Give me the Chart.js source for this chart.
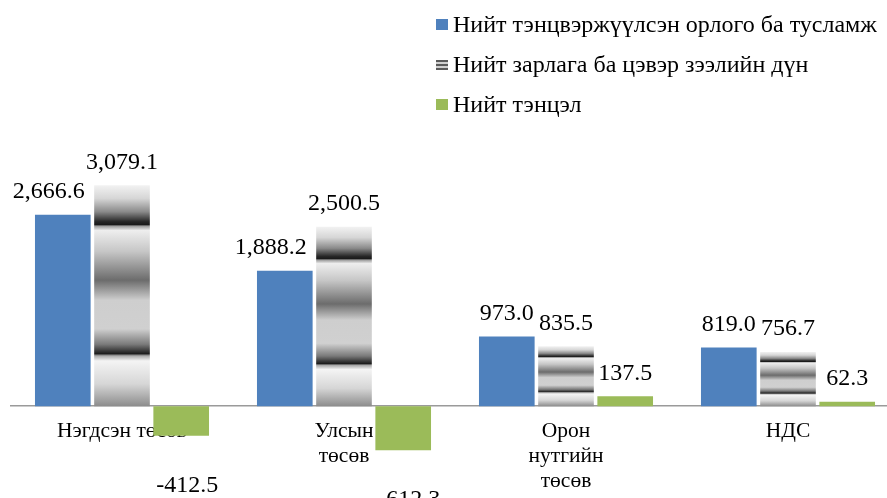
<!DOCTYPE html>
<html>
<head>
<meta charset="utf-8">
<script src="https://cdn.jsdelivr.net/npm/chart.js@4"></script>
<style>
  html, body { margin: 0; padding: 0; background: #fff; overflow: hidden; }
  #wrap { width: 887px; height: 498px; overflow: hidden; }
</style>
</head>
<body>
<div id="wrap"><canvas id="myChart" width="899" height="498"></canvas></div>
<script>
const categories = [['Нэгдсэн төсөв'], ['Улсын', 'төсөв'], ['Орон', 'нутгийн', 'төсөв'], ['НДС']];
const seriesNames = [
    'Нийт тэнцвэржүүлсэн орлого ба тусламж',
    'Нийт зарлага ба цэвэр зээлийн дүн',
    'Нийт тэнцэл'
];
const revenue = [2666.6, 1888.2, 973.0, 819.0];
const spending = [3079.1, 2500.5, 835.5, 756.7];
const balance = [-412.5, -612.3, 137.5, 62.3];

const serif = "'Liberation Serif', 'Times New Roman', serif";

// grey banded fill, stretched over each bar
const greyStops = [
    [0.00, '#f2f2f2'], [0.06, '#d6d6d6'], [0.12, '#8a8a8a'], [0.165, '#262626'],
    [0.178, '#1a1a1a'], [0.185, '#9a9a9a'], [0.205, '#eeeeee'], [0.30, '#c6c6c6'],
    [0.43, '#6c6c6c'], [0.52, '#cecece'], [0.65, '#d0d0d0'], [0.72, '#7a7a7a'],
    [0.762, '#1e1e1e'], [0.772, '#a8a8a8'], [0.795, '#f4f4f4'], [0.90, '#d6d6d6'],
    [1.00, '#8c8c8c']
];

function greyFill(context) {
    const chart = context.chart;
    const y = chart.scales.y;
    if (context.type !== 'data' || !y) return '#999999';
    const top = y.getPixelForValue(context.raw);
    const base = y.getPixelForValue(0);
    if (!isFinite(top) || !isFinite(base) || top === base) return '#999999';
    const g = chart.ctx.createLinearGradient(0, top, 0, base);
    greyStops.forEach(s => g.addColorStop(s[0], s[1]));
    return g;
}

const valueLabels = {
    id: 'valueLabels',
    afterDatasetsDraw(chart) {
        const ctx = chart.ctx;
        ctx.save();
        ctx.font = '24px ' + serif;
        ctx.fillStyle = '#000';
        ctx.textAlign = 'center';
        ctx.textBaseline = 'middle';
        chart.data.datasets.forEach((ds, i) => {
            const meta = chart.getDatasetMeta(i);
            meta.data.forEach((bar, j) => {
                const v = ds.data[j];
                const txt = v.toLocaleString('en-US', { minimumFractionDigits: 1, maximumFractionDigits: 1 });
                let x = bar.x;
                let yy;
                if (v < 0) {
                    yy = bar.y + 50;
                    x += 6;
                } else {
                    yy = bar.y - 23;
                    // first series labels pushed left where they crowd the tall neighbour
                    if (i === 0 && v > 1000) x -= 14;
                }
                ctx.fillText(txt, x, yy);
            });
        });
        ctx.restore();
    }
};

const sideLegend = {
    id: 'sideLegend',
    afterDraw(chart) {
        const ctx = chart.ctx;
        ctx.save();
        ctx.font = '24px ' + serif;
        ctx.textBaseline = 'middle';
        ctx.textAlign = 'left';
        chart.data.datasets.forEach((ds, i) => {
            const cy = 25 + i * 40;
            if (i === 1) {
                for (let k = 0; k < 5; k++) {
                    ctx.fillStyle = k % 2 === 0 ? '#5a5a5a' : '#d0d0d0';
                    ctx.fillRect(436, cy - 5 + k * 2, 12, 2);
                }
            } else {
                ctx.fillStyle = ds.backgroundColor;
                ctx.fillRect(436, cy - 6, 12, 11);
            }
            ctx.fillStyle = '#000';
            ctx.fillText(ds.label, 453, cy + 1);
        });
        ctx.restore();
    }
};

const ctx = document.getElementById('myChart').getContext('2d');
const myChart = new Chart(ctx, {
    type: 'bar',
    data: {
        labels: categories,
        datasets: [{
            label: seriesNames[0],
            data: revenue,
            backgroundColor: '#4f81bd'
        },
        {
            label: seriesNames[1],
            data: spending,
            backgroundColor: greyFill
        },
        {
            label: seriesNames[2],
            data: balance,
            backgroundColor: '#9bbb59'
        }]
    },
    options: {
        responsive: false,
        animation: false,
        layout: {
            padding: { top: 155, bottom: 20, left: 11, right: 0 }
        },
        datasets: {
            bar: {
                categoryPercentage: 0.8,
                barPercentage: 0.94
            }
        },
        plugins: {
            legend: { display: false },
            tooltip: { enabled: false }
        },
        scales: {
            x: {
                position: { y: 0 },
                afterFit(axis) { axis.height = 0; },
                grid: { display: false, drawTicks: false },
                border: { display: true, color: '#9a9a9a', width: 1.5 },
                ticks: {
                    color: '#000',
                    padding: 13,
                    maxRotation: 0,
                    autoSkip: false,
                    font: { family: serif, size: 21.5, lineHeight: 1.163 }
                }
            },
            y: {
                display: false,
                min: -1000,
                max: 3500
            }
        }
    },
    plugins: [valueLabels, sideLegend]
});
</script>
</body>
</html>
